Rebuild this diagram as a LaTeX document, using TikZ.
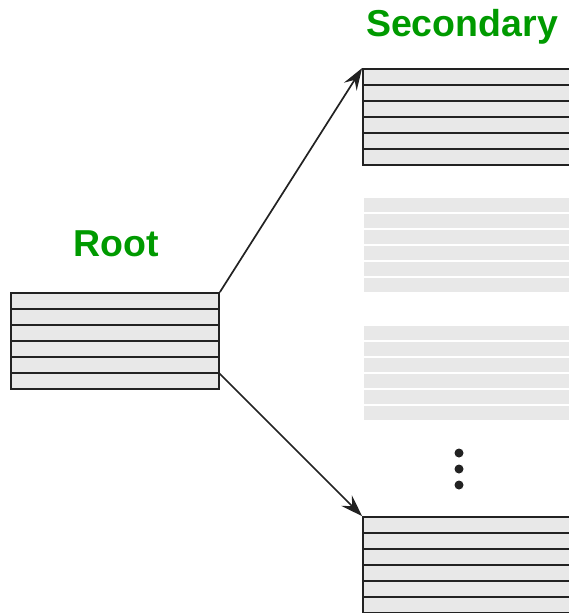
\documentclass[tikz,border=0pt]{standalone}
\usepackage{fontspec}
\setmainfont{Liberation Sans}
\usetikzlibrary{arrows.meta}
\definecolor{rowgray}{HTML}{E8E8E8}
\definecolor{ink}{HTML}{222222}
\definecolor{lblgreen}{HTML}{009A00}
\tikzset{
  table/.style={draw=ink, line width=1.8pt, fill=rowgray, rectangle, inner sep=0pt,
    minimum width=210pt, minimum height=96pt,
    path picture={\foreach \i in {1,...,5}{\draw[ink, line width=1.6pt]
      ([yshift=-\i*16pt]path picture bounding box.north west) --
      ([yshift=-\i*16pt]path picture bounding box.north east);}}},
  fadedrow/.style={fill=rowgray, draw=white, line width=2pt, rectangle, inner sep=0pt,
    minimum width=210pt, minimum height=16pt},
  lbl/.style={text=lblgreen, font=\fontsize{37.5}{42}\selectfont\bfseries, inner sep=0pt, anchor=base},
  conn/.style={draw=ink, line width=1.7pt, -{Stealth[length=22pt, width=15pt, inset=8pt]}},
  dot/.style={circle, fill=ink, inner sep=0pt, minimum size=9pt}
}
\begin{document}
\begin{tikzpicture}[x=1pt, y=-1pt]
\useasboundingbox (0,0) rectangle (568,613);
% root table
\node[table, minimum width=208pt] (root) at (115,341) {};
% secondary tables
\node[table] (sec1) at (468,117) {};
\node[table] (sec2) at (468,565) {};
% faded tables
\foreach \j/\y in {1/205,2/221,3/237,4/253,5/269,6/285}{
  \node[fadedrow] (fa\j) at (468,\y) {};
}
\foreach \j/\y in {1/333,2/349,3/365,4/381,5/397,6/413}{
  \node[fadedrow] (fb\j) at (468,\y) {};
}
% labels
\node[lbl] (rootlbl) at (116,256) {Root};
\node[lbl] (seclbl) at (462,36) {Secondary};
% dots
\node[dot] (d1) at (459,453) {};
\node[dot] (d2) at (459,469) {};
\node[dot] (d3) at (459,485) {};
% connectors
\coordinate (rootlow) at (219,373);
\draw[conn] (root.north east) -- (sec1.north west);
\draw[conn] (rootlow) -- (sec2.north west);
\end{tikzpicture}
\end{document}
